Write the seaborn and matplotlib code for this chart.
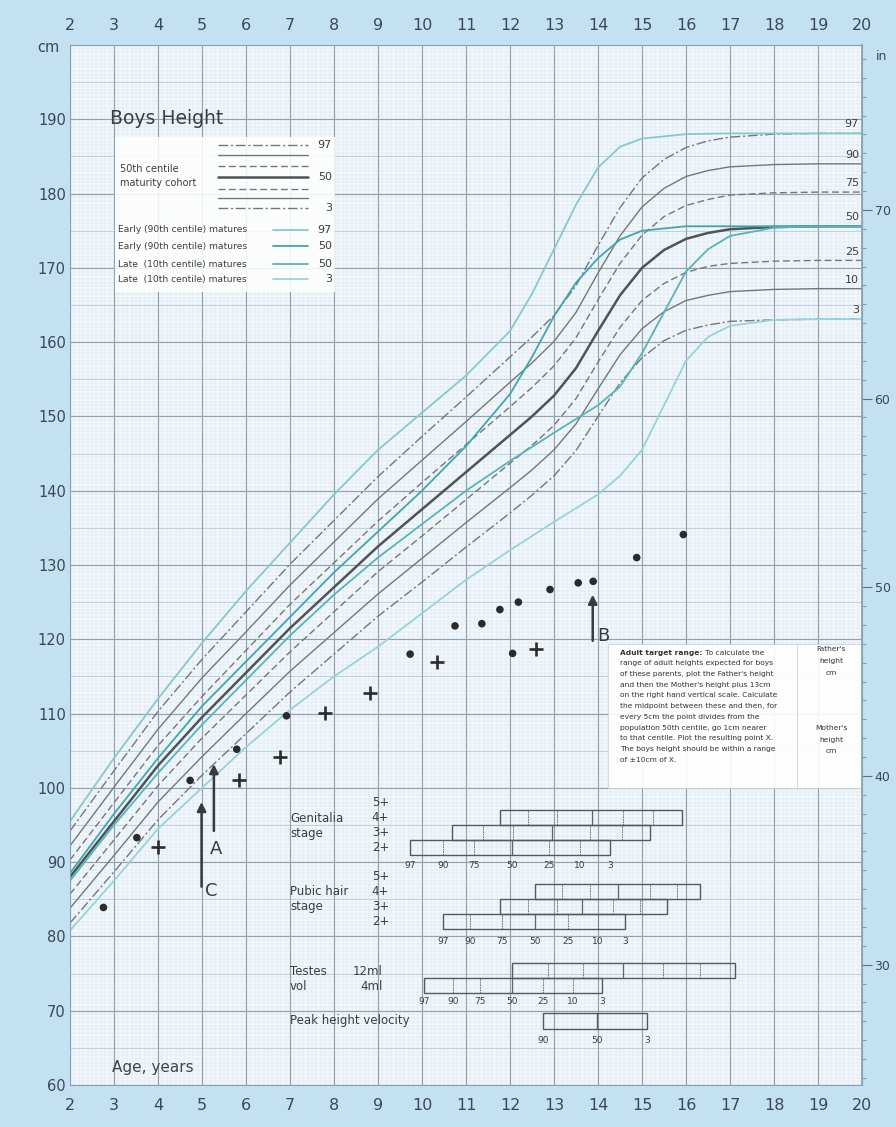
import matplotlib
matplotlib.use("Agg")
import matplotlib.pyplot as plt
import numpy as np
import pandas as pd
import seaborn as sns
from matplotlib.patches import Rectangle

# ---------------- centile curves (height in cm) ----------------
ages = [2, 3, 4, 5, 6, 7, 8, 9, 10, 11, 12, 12.5, 13, 13.5, 14, 14.5, 15, 15.5, 16, 16.5, 17, 18, 19, 20]
c97 = [94.2, 102.3, 110.3, 117.3, 123.7, 130.1, 136.0, 141.9, 147.3, 152.6, 158.0, 160.7, 163.6, 167.6, 173.0, 178.1, 182.1, 184.6, 186.2, 187.1, 187.6, 188.0, 188.1, 188.1]
c90 = [92.2, 100.1, 107.9, 114.8, 121.0, 127.3, 133.1, 138.9, 144.1, 149.3, 154.6, 157.2, 160.1, 164.0, 169.3, 174.3, 178.2, 180.7, 182.3, 183.1, 183.6, 183.9, 184.0, 184.0]
c75 = [90.3, 98.0, 105.7, 112.3, 118.5, 124.7, 130.3, 135.9, 141.1, 146.2, 151.3, 153.9, 156.8, 160.6, 165.7, 170.6, 174.4, 176.9, 178.4, 179.2, 179.8, 180.1, 180.2, 180.2]
c50 = [88.0, 95.5, 103.0, 109.5, 115.5, 121.5, 127.0, 132.5, 137.5, 142.5, 147.5, 150.0, 152.8, 156.5, 161.5, 166.3, 170.0, 172.4, 173.9, 174.7, 175.2, 175.5, 175.6, 175.6]
c25 = [85.7, 93.0, 100.3, 106.7, 112.5, 118.3, 123.7, 129.1, 133.9, 138.8, 143.7, 146.1, 148.8, 152.4, 157.3, 162.0, 165.6, 167.9, 169.4, 170.2, 170.6, 170.9, 171.0, 171.0]
c10 = [83.8, 90.9, 98.1, 104.2, 110.0, 115.7, 120.9, 126.1, 130.9, 135.7, 140.4, 142.8, 145.5, 149.0, 153.7, 158.3, 161.8, 164.1, 165.6, 166.3, 166.8, 167.1, 167.2, 167.2]
c3 = [81.8, 88.7, 95.7, 101.7, 107.3, 112.9, 118.0, 123.1, 127.7, 132.4, 137.0, 139.4, 142.0, 145.4, 150.0, 154.5, 157.9, 160.2, 161.6, 162.3, 162.8, 163.0, 163.1, 163.1]

early_ages = [2, 3, 4, 5, 6, 7, 8, 9, 10, 11, 12, 12.5, 13, 13.5, 14, 14.5, 15, 16, 17, 18, 19, 20]
early97 = [95.5, 104.0, 112.0, 119.5, 126.5, 133.0, 139.5, 145.5, 150.5, 155.5, 161.5, 166.5, 172.5, 178.5, 183.5, 186.3, 187.4, 188.0, 188.1, 188.1, 188.1, 188.1]
early50 = [88.5, 96.5, 104.0, 111.0, 117.0, 123.0, 129.0, 134.5, 140.0, 146.0, 153.0, 158.0, 163.5, 168.0, 171.3, 173.8, 175.0, 175.6, 175.6, 175.6, 175.6, 175.6]

late_ages = [2, 3, 4, 5, 6, 7, 8, 9, 10, 11, 12, 13, 14, 14.5, 15, 15.5, 16, 16.5, 17, 18, 19, 20]
late50 = [87.5, 95.0, 102.0, 108.5, 114.5, 120.5, 126.0, 131.0, 135.5, 140.0, 144.0, 147.8, 151.5, 154.0, 158.5, 164.0, 169.5, 172.5, 174.3, 175.4, 175.6, 175.6]
late3 = [80.8, 87.5, 94.5, 100.0, 105.5, 110.5, 115.0, 119.0, 123.5, 128.0, 132.0, 135.8, 139.5, 142.0, 145.5, 151.5, 157.5, 160.7, 162.2, 163.0, 163.1, 163.1]

centile_names = ["97", "90", "75", "50", "25", "10", "3"]

# ---------------- measurements of the child ----------------
dot_age = [2.76, 3.52, 4.73, 5.79, 6.92, 9.73, 10.75, 11.36, 11.77, 12.06, 12.19, 12.91, 13.55, 13.89, 14.88, 15.94]
dot_cm = [83.9, 93.3, 101.0, 105.2, 109.7, 118.0, 121.8, 122.1, 124.0, 118.1, 125.0, 126.7, 127.6, 127.8, 131.0, 134.1]
cross_age = [4.01, 5.83, 6.77, 7.80, 8.82, 10.33, 12.59]
cross_cm = [92.0, 101.0, 104.1, 110.1, 112.8, 116.9, 118.7]

arrow_labels = ["C", "A", "B"]
arrow_age = [4.99, 5.27, 13.88]
arrow_from = [86.7, 94.2, 119.8]
arrow_to = [98.1, 103.2, 126.0]

# ---------------- pubertal staging centiles (age, years: 97th ... 3rd) ----------------
stage_centiles = ["97", "90", "75", "50", "25", "10", "3"]
genital_2 = [9.73, 10.48, 11.18, 12.05, 12.89, 13.59, 14.27]
genital_3 = [10.68, 11.39, 12.07, 12.95, 13.82, 14.55, 15.18]
genital_4 = [11.77, 12.41, 13.07, 13.86, 14.57, 15.25, 15.91]
pubic_2 = [10.48, 11.09, 11.82, 12.57, 13.32, 14.00, 14.61]
pubic_3 = [11.77, 12.41, 13.07, 13.64, 14.34, 14.95, 15.57]
pubic_4 = [12.57, 13.18, 13.82, 14.45, 15.18, 15.80, 16.32]
testes_4ml = [10.05, 10.70, 11.32, 12.05, 12.75, 13.43, 14.09]
testes_12ml = [12.05, 12.86, 13.66, 14.57, 15.48, 16.32, 17.11]
phv_centiles = ["90", "50", "3"]
phv_age = [12.75, 13.98, 15.11]

# ---------------- styling ----------------
sns.set_theme(style="white")
plt.rcParams["font.family"] = ["DejaVu Sans"]

FIG_BG = "#c4e1f3"
PLOT_BG = "#f4f8fb"
INK = "#3a4856"
TXT = "#3d3d3d"
GREY = "#72777c"
GREY50 = "#4e5358"
T_EARLY97 = "#86c8d0"
T_EARLY50 = "#3fa6b0"
T_LATE50 = "#55b4bc"
T_LATE3 = "#98d2da"
DASHDOT = (7, 2, 1.5, 2)
DASHED = (5, 2.5)

fig = plt.figure(figsize=(8.96, 11.27), dpi=100, facecolor=FIG_BG)
ax = fig.add_axes([70 / 896, 42 / 1127, 792 / 896, 1040 / 1127])
ax.set_facecolor(PLOT_BG)
ax.set_xlim(2, 20)
ax.set_ylim(60, 200)

# graph-paper grid
ax.vlines(np.arange(2, 20.001, 0.1), 60, 200, color="#d7e6ef", lw=0.35, zorder=0)
ax.hlines(np.arange(60, 200.001, 0.5), 2, 20, color="#d7e6ef", lw=0.35, zorder=0)
ax.hlines(np.arange(65, 200, 10), 2, 20, color="#b7cddb", lw=0.6, zorder=0.2)
ax.vlines(np.arange(2, 20.001, 1), 60, 200, color="#93a3ae", lw=0.85, zorder=0.5)
ax.hlines(np.arange(60, 200.001, 10), 2, 20, color="#93a3ae", lw=0.85, zorder=0.5)

# ---------------- centile curves through seaborn ----------------
grey_series = [c97, c90, c75, c50, c25, c10, c3]
frames = []
for name, vals in zip(centile_names, grey_series):
    frames.append(pd.DataFrame({"age": ages, "cm": vals, "curve": "g" + name}))
frames.append(pd.DataFrame({"age": early_ages, "cm": early97, "curve": "early97"}))
frames.append(pd.DataFrame({"age": early_ages, "cm": early50, "curve": "early50"}))
frames.append(pd.DataFrame({"age": late_ages, "cm": late50, "curve": "late50"}))
frames.append(pd.DataFrame({"age": late_ages, "cm": late3, "curve": "late3"}))
curves = pd.concat(frames, ignore_index=True)

palette = {"g97": GREY, "g90": GREY, "g75": GREY, "g50": GREY50, "g25": GREY, "g10": GREY, "g3": GREY,
           "early97": T_EARLY97, "early50": T_EARLY50, "late50": T_LATE50, "late3": T_LATE3}
dashes = {"g97": DASHDOT, "g90": "", "g75": DASHED, "g50": "", "g25": DASHED, "g10": "", "g3": DASHDOT,
          "early97": "", "early50": "", "late50": "", "late3": ""}
sizes = {"g97": 1.0, "g90": 1.0, "g75": 1.0, "g50": 1.8, "g25": 1.0, "g10": 1.0, "g3": 1.0,
         "early97": 1.3, "early50": 1.3, "late50": 1.3, "late3": 1.3}
sns.lineplot(data=curves, x="age", y="cm", hue="curve", style="curve", size="curve",
             palette=palette, dashes=dashes, sizes=sizes, estimator=None, sort=False,
             legend=False, ax=ax, zorder=2)

# centile names at the right-hand end of each curve
for name, vals in zip(centile_names, grey_series):
    ax.text(19.93, vals[-1] + 1.2, name, ha="right", va="center", fontsize=8, color=TXT, zorder=6)

# ---------------- child's measurements ----------------
sns.scatterplot(x=dot_age, y=dot_cm, ax=ax, color="#2b2b2b", s=30, edgecolor="none", zorder=6)
sns.scatterplot(x=cross_age, y=cross_cm, ax=ax, color="#2b2b2b", marker="+", s=95, linewidth=1.9, zorder=6)

label_offsets = {"C": (0.22, -0.6), "A": (0.05, -2.4), "B": (0.25, 0.6)}
for lab, xa, y0, y1 in zip(arrow_labels, arrow_age, arrow_from, arrow_to):
    ax.annotate("", xy=(xa, y1), xytext=(xa, y0),
                arrowprops=dict(arrowstyle="-|>", lw=1.8, color="#3a3a3a", mutation_scale=13,
                                shrinkA=0, shrinkB=0), zorder=6)
    dx, dy = label_offsets[lab]
    ax.text(xa + dx, y0 + dy, lab, ha="center", va="center", fontsize=13, color="#3a3a3a", zorder=6)

# ---------------- title and key ----------------
ax.text(2.91, 190.1, "Boys Height", ha="left", va="center", fontsize=13.5, color=TXT, zorder=6)
ax.add_patch(Rectangle((3.02, 166.8), 5.0, 20.8, fc="white", ec="none", alpha=0.85, zorder=3))
key_rows = [186.5, 185.2, 183.7, 182.2, 180.6, 179.4, 178.1]
key_styles = [(DASHDOT, 1.0), ("", 1.0), (DASHED, 1.0), ("", 1.8),
              (DASHED, 1.0), ("", 1.0), (DASHDOT, 1.0)]
for yk, (dsh, lw), name in zip(key_rows, key_styles, centile_names):
    ln, = ax.plot([5.36, 7.41], [yk, yk], color=GREY50 if lw > 1.5 else GREY, lw=lw, zorder=4)
    if dsh:
        ln.set_dashes(dsh)
    if name in ("97", "50", "3"):
        ax.text(7.95, yk, name, ha="right", va="center", fontsize=8, color=TXT, zorder=4)
ax.text(3.14, 183.3, "50th centile", ha="left", va="center", fontsize=7, color=TXT, zorder=4)
ax.text(3.14, 181.4, "maturity cohort", ha="left", va="center", fontsize=7, color=TXT, zorder=4)
key_teal = [("Early (90th centile) matures", T_EARLY97, "97", 175.1),
            ("Early (90th centile) matures", T_EARLY50, "50", 172.9),
            ("Late  (10th centile) matures", T_LATE50, "50", 170.5),
            ("Late  (10th centile) matures", T_LATE3, "3", 168.5)]
for txt, col, name, yk in key_teal:
    ax.text(3.09, yk, txt, ha="left", va="center", fontsize=6.6, color=TXT, zorder=4)
    ax.plot([6.61, 7.41], [yk, yk], color=col, lw=1.3, zorder=4)
    ax.text(7.95, yk, name, ha="right", va="center", fontsize=8, color=TXT, zorder=4)

# ---------------- adult target range panel ----------------
ax.add_patch(Rectangle((14.23, 100.0), 20 - 14.23, 19.4, fc="white", ec="#c8d0d6", lw=0.6, alpha=0.9, zorder=3))
ax.plot([18.52, 18.52], [100.0, 119.4], color="#c8d0d6", lw=0.6, zorder=4)
bold = ax.text(14.5, 118.2, "Adult target range:", ha="left", va="center", fontsize=5.4,
               fontweight="bold", color="#333333", zorder=4)
ax.annotate(" To calculate the", xy=(1, 0.5), xycoords=bold, ha="left", va="center",
            fontsize=5.4, color="#333333", zorder=4)
body = ["range of adult heights expected for boys",
        "of these parents, plot the Father's height",
        "and then the Mother's height plus 13cm",
        "on the right hand vertical scale. Calculate",
        "the midpoint between these and then, for",
        "every 5cm the point divides from the",
        "population 50th centile, go 1cm nearer",
        "to that centile. Plot the resulting point X.",
        "The boys height should be within a range",
        "of ±10cm of X."]
for i, line in enumerate(body):
    ax.text(14.5, 118.2 - 1.44 * (i + 1), line, ha="left", va="center", fontsize=5.4,
            color="#333333", zorder=4)
for i, w in enumerate(["Father's", "height", "cm"]):
    ax.text(19.3, 118.7 - 1.6 * i, w, ha="center", va="center", fontsize=5.4, color="#333333", zorder=4)
for i, w in enumerate(["Mother's", "height", "cm"]):
    ax.text(19.3, 108.1 - 1.6 * i, w, ha="center", va="center", fontsize=5.4, color="#333333", zorder=4)

# ---------------- pubertal staging bars ----------------
BOX_H = 2.0


def stage_bar(cent_ages, yc):
    ax.add_patch(Rectangle((cent_ages[0], yc - BOX_H / 2), cent_ages[-1] - cent_ages[0], BOX_H,
                           fc="none", ec="#555a5e", lw=1.0, zorder=4))
    for k, xa in enumerate(cent_ages[1:-1], start=1):
        ax.plot([xa, xa], [yc - BOX_H / 2, yc + BOX_H / 2], color="#5f6469",
                lw=0.9 if stage_centiles[k] == "50" else 0.6,
                ls="-" if stage_centiles[k] == "50" else (0, (2, 1)), zorder=4)


def centile_row(cent_ages, names, y):
    for xa, n in zip(cent_ages, names):
        ax.text(xa, y, n, ha="center", va="center", fontsize=6.5, color=TXT, zorder=4)


SMALL = dict(ha="left", va="center", fontsize=8.5, color=TXT, zorder=4)
# genitalia
ax.text(7.0, 95.9, "Genitalia", **SMALL)
ax.text(7.0, 93.9, "stage", **SMALL)
for lab, y in zip(["5+", "4+", "3+", "2+"], [98.0, 96.0, 94.0, 92.0]):
    ax.text(8.86, y, lab, **SMALL)
stage_bar(genital_4, 96.0)
stage_bar(genital_3, 94.0)
stage_bar(genital_2, 92.0)
centile_row(genital_2, stage_centiles, 89.5)
# pubic hair
ax.text(7.0, 86.0, "Pubic hair", **SMALL)
ax.text(7.0, 84.0, "stage", **SMALL)
for lab, y in zip(["5+", "4+", "3+", "2+"], [88.0, 86.0, 84.0, 82.0]):
    ax.text(8.86, y, lab, **SMALL)
stage_bar(pubic_4, 86.0)
stage_bar(pubic_3, 84.0)
stage_bar(pubic_2, 82.0)
centile_row(pubic_2, stage_centiles, 79.3)
# testicular volume
ax.text(7.0, 75.3, "Testes", **SMALL)
ax.text(7.0, 73.2, "vol", **SMALL)
ax.text(9.1, 75.3, "12ml", ha="right", va="center", fontsize=8.5, color=TXT, zorder=4)
ax.text(9.1, 73.2, "4ml", ha="right", va="center", fontsize=8.5, color=TXT, zorder=4)
stage_bar(testes_12ml, 75.4)
stage_bar(testes_4ml, 73.4)
centile_row(testes_4ml, stage_centiles, 71.3)
# peak height velocity
ax.text(7.0, 68.7, "Peak height velocity", **SMALL)
ax.add_patch(Rectangle((phv_age[0], 67.6), phv_age[-1] - phv_age[0], 2.1, fc="none", ec="#555a5e", lw=1.0, zorder=4))
ax.plot([phv_age[1], phv_age[1]], [67.6, 69.7], color="#555a5e", lw=1.0, zorder=4)
centile_row(phv_age, phv_centiles, 66.0)

ax.text(2.95, 62.4, "Age, years", ha="left", va="center", fontsize=11, color="#444444", zorder=4)

# ---------------- axes, ticks and scales ----------------
ax.set_xticks(range(2, 21))
ax.set_yticks(range(60, 200, 10))
ax.tick_params(axis="x", which="both", top=True, labeltop=True, bottom=True, labelbottom=True,
               length=0, pad=9, labelsize=11.5, labelcolor=INK)
ax.tick_params(axis="y", length=0, pad=3, labelsize=10.5, labelcolor=INK)
ax.set_xlabel("")
ax.set_ylabel("")
for sp in ax.spines.values():
    sp.set_color("#8aa3b3")
    sp.set_linewidth(0.8)

ax2 = ax.twinx()
ax2.set_ylim(60 / 2.54, 200 / 2.54)
ax2.set_yticks([30, 40, 50, 60, 70])
ax2.set_yticks(np.arange(24, 79, 1), minor=True)
ax2.tick_params(axis="y", which="major", length=7, width=0.8, color="#5d6e7c", pad=2,
                labelsize=9, labelcolor=INK)
ax2.tick_params(axis="y", which="minor", length=3, width=0.6, color="#7b8c99")
for side in ("left", "top", "bottom"):
    ax2.spines[side].set_visible(False)
ax2.spines["right"].set_color("#8aa3b3")

fig.text(48 / 896, 1 - 47 / 1127, "cm", ha="center", va="center", fontsize=10.5, color=INK)
fig.text(882 / 896, 1 - 57 / 1127, "in", ha="center", va="center", fontsize=9, color=INK)

fig.savefig("out.png", dpi=100, facecolor=FIG_BG)
